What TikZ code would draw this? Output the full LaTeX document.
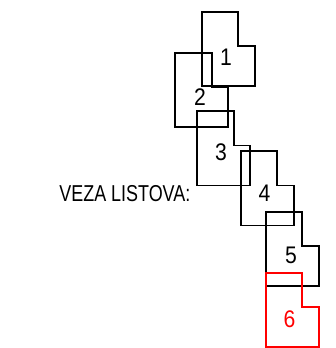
\documentclass[tikz,border=0pt]{standalone}
\usepackage{fontspec}
\setmainfont{Liberation Sans}
\begin{document}
\begin{tikzpicture}[x=1pt,y=-1pt,
  sheetline/.style={line width=1.9pt, line join=miter},
  sheet/.pic={\draw[sheetline,pic actions] (0,0) -- (36.6,0) -- (36.6,34.5) -- (53,34.5) -- (53,74.5) -- (0,74.5) -- cycle;},
  num/.style={font=\fontsize{24}{24}\selectfont, inner sep=0pt},
  lbl/.style={font=\fontsize{23}{23}\selectfont, inner sep=0pt}]
\useasboundingbox (0,0) rectangle (335,348);
\pic at (201.7,11.7) {sheet};
\pic at (175,52.7) {sheet};
\pic at (197.3,111) {sheet};
\pic at (240.7,151) {sheet};
\pic at (265.7,211.7) {sheet};
\pic[draw=red] at (265.7,272.8) {sheet};
\node[num] (n1) at (226,57.5) {\scalebox{0.88}[1]{1}};
\node[num] (n2) at (200,97) {\scalebox{0.88}[1]{2}};
\node[num] (n3) at (221,152.5) {\scalebox{0.88}[1]{3}};
\node[num] (n4) at (264.5,193.5) {\scalebox{0.88}[1]{4}};
\node[num] (n5) at (291,255) {\scalebox{0.88}[1]{5}};
\node[num,text=red] (n6) at (289.5,319) {\scalebox{0.88}[1]{6}};
\node[lbl,anchor=base east] (title) at (190.5,201.7) {\scalebox{0.78}[1]{VEZA LISTOVA:}};
\end{tikzpicture}
\end{document}
